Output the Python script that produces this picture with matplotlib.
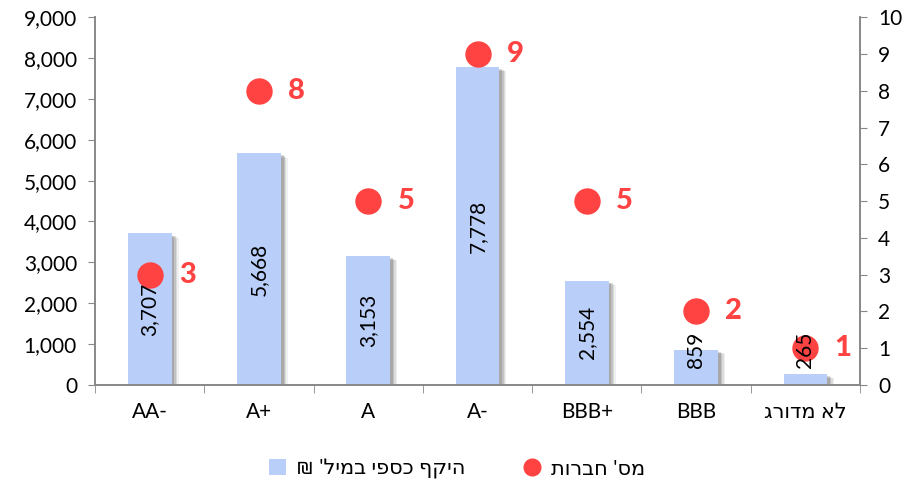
import matplotlib
matplotlib.use("Agg")
import matplotlib.pyplot as plt
import matplotlib.patheffects as pe
from matplotlib.ticker import FuncFormatter, MultipleLocator, FixedLocator
from matplotlib.lines import Line2D
from matplotlib.patches import Patch

plt.rcParams['font.family'] = ['Lato', 'DejaVu Sans']

categories = ["AA-", "A+", "A", "A-", "BBB+", "BBB", "לא מדורג"]
volume = [3707, 5668, 3153, 7778, 2554, 859, 265]
companies = [3, 8, 5, 9, 5, 2, 1]
legend_volume = "היקף כספי במיל' ₪"
legend_companies = "מס' חברות"

def vis(s):
    # display RTL Hebrew in visual order
    if any('\u0590' <= ch <= '\u05FF' for ch in s):
        return s[::-1]
    return s

bar_color = "#B9CFFA"
dot_color = "#FF4242"
axis_color = "#888888"

fig = plt.figure(figsize=(9.14, 4.91), dpi=100)
ax = fig.add_axes([0.104, 0.216, 0.837, 0.749])
ax2 = ax.twinx()

x = list(range(len(categories)))
bars = ax.bar(x, volume, width=0.4, color=bar_color, zorder=2)
shadow_effects = []
for off, a in [((5, -3), 0.08), ((4, -2.5), 0.12), ((3, -2), 0.16), ((2, -1.5), 0.2)]:
    shadow_effects.append(pe.SimplePatchShadow(offset=off, shadow_rgbFace='#444444', alpha=a))
shadow_effects.append(pe.Normal())
for b in bars:
    b.set_path_effects(shadow_effects)

ax.set_ylim(0, 9000)
ax.set_xlim(-0.5, len(categories) - 0.5)
ax.yaxis.set_major_locator(MultipleLocator(1000))
ax.yaxis.set_major_formatter(FuncFormatter(lambda v, p: f"{int(v):,}"))

ax2.set_ylim(0, 10)
ax2.yaxis.set_major_locator(MultipleLocator(1))
ax2.plot(x, companies, 'o', color=dot_color, markersize=18, zorder=3, clip_on=False)
for xi, c in zip(x, companies):
    ax2.annotate(str(c), (xi, c), xytext=(21, 0), textcoords='offset points',
                 ha='left', va='center', fontsize=21, fontweight='black', color=dot_color)

for xi, v in zip(x, volume):
    ax2.text(xi, max(v / 2, 860), f"{v:,}", transform=ax.transData, rotation=90,
             ha='center', va='center', fontsize=15, color='black', zorder=5)

ax.set_xticks(x)
ax.set_xticklabels([vis(c) for c in categories], fontsize=15)
ax.tick_params(axis='x', which='major', length=0, pad=12)
ax.xaxis.set_minor_locator(FixedLocator([i + 0.5 for i in range(-1, len(categories))]))
ax.tick_params(axis='x', which='minor', length=6, color=axis_color, direction='out')
ax.tick_params(axis='y', length=5, color=axis_color, labelsize=15, pad=8)
ax2.tick_params(axis='y', length=5, color=axis_color, labelsize=15, pad=8)

for a in (ax, ax2):
    a.spines['top'].set_visible(False)
    for s in ('left', 'right', 'bottom'):
        a.spines[s].set_color(axis_color)
        a.spines[s].set_linewidth(1.2)

handles = [Patch(facecolor=bar_color, edgecolor='none'),
           Line2D([], [], marker='o', linestyle='none', color=dot_color, markersize=12)]
labels = [vis(legend_volume), vis(legend_companies)]
fig.legend(handles, labels, loc='center', bbox_to_anchor=(0.50, 0.045), ncol=2,
           frameon=False, fontsize=15, handlelength=0.8, handleheight=0.8,
           columnspacing=2.8, handletextpad=0.5)

fig.savefig("out.png", dpi=100)
